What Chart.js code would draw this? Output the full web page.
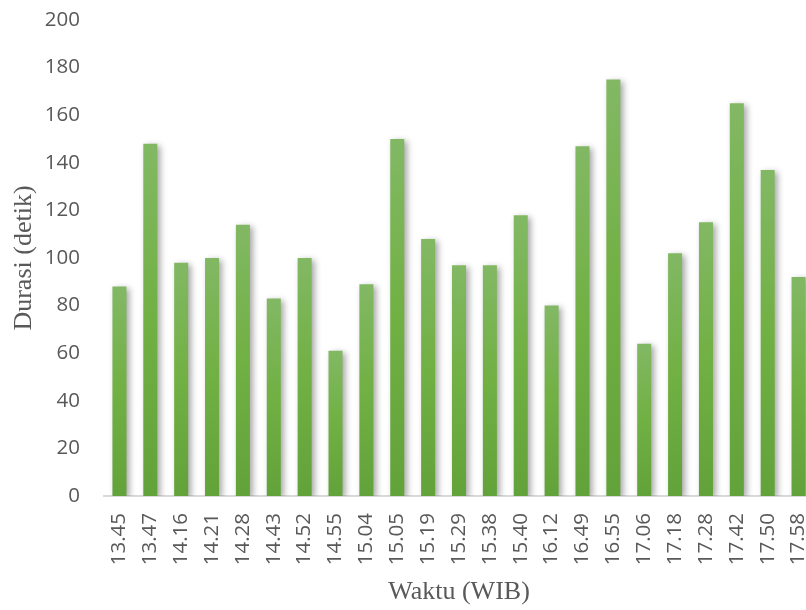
<!DOCTYPE html>
<html>
<head>
  <title>Durasi per Waktu</title>
  <script src="https://cdn.jsdelivr.net/npm/chart.js"></script>
  <style>
    body {
      margin: 0;
      background-color: #fff;
      overflow: hidden;
    }
    #chart {
      display: block;
    }
  </style>
</head>
<body>
  <!-- kanvas sedikit lebih lebar dari jendela: batang terakhir terpotong seperti di gambar asli -->
  <canvas id="chart" width="814" height="610"></canvas>

  <script>
    const waktu = ['13.45', '13.47', '14.16', '14.21', '14.28', '14.43', '14.52', '14.55', '15.04', '15.05',
      '15.19', '15.29', '15.38', '15.40', '16.12', '16.49', '16.55', '17.06', '17.18', '17.28',
      '17.42', '17.50', '17.58'];
    const durasi = [88, 148, 98, 100, 114, 83, 100, 61, 89, 150,
      108, 97, 97, 118, 80, 147, 175, 64, 102, 115,
      165, 137, 92];
    const yTicks = [0, 20, 40, 60, 80, 100, 120, 140, 160, 180, 200];

    const grey = '#595959';

    // gradien per batang: terang di atas, lebih gelap di bawah
    function barGradient(context) {
      const chart = context.chart;
      const y = chart.scales.y;
      if (context.type !== 'data' || !chart.chartArea || !y) return '#70ad47';
      const top = y.getPixelForValue(context.raw);
      const base = y.getPixelForValue(0);
      if (!isFinite(top) || !isFinite(base) || top === base) return '#70ad47';
      const g = chart.ctx.createLinearGradient(0, top, 0, base);
      g.addColorStop(0, '#82b864');
      g.addColorStop(0.5, '#71b043');
      g.addColorStop(1, '#62a23a');
      return g;
    }

    const shadowPlugin = {
      id: 'barShadow',
      beforeDatasetsDraw(chart) {
        const ctx = chart.ctx;
        ctx.save();
        ctx.shadowColor = 'rgba(0, 0, 0, 0.35)';
        ctx.shadowBlur = 6;
        ctx.shadowOffsetX = 3;
        ctx.shadowOffsetY = 2;
      },
      afterDatasetsDraw(chart) {
        chart.ctx.restore();
      }
    };

    new Chart(document.getElementById('chart'), {
      type: 'bar',
      data: {
        labels: waktu,
        datasets: [{
          label: 'Durasi',
          data: durasi,
          backgroundColor: barGradient,
          borderWidth: 0,
          barPercentage: 0.454,
          categoryPercentage: 1
        }]
      },
      options: {
        responsive: false,
        animation: false,
        layout: {
          padding: { top: 20, left: 0, right: 0, bottom: 0 }
        },
        plugins: {
          legend: { display: false },
          tooltip: { enabled: false }
        },
        scales: {
          x: {
            grid: { display: false, drawTicks: false },
            border: { display: true, color: '#d9d9d9', width: 2 },
            ticks: {
              color: grey,
              font: { family: 'Open Sans', size: 20.5 },
              minRotation: 90,
              maxRotation: 90,
              padding: 17,
              autoSkip: false
            },
            title: {
              display: true,
              text: 'Waktu (WIB)',
              color: grey,
              font: { family: 'Liberation Serif', size: 26 },
              padding: { top: 0, bottom: 2 }
            },
            afterFit(scale) {
              scale.height = 114;
              scale.paddingLeft = 0;
              scale.paddingRight = 0;
            }
          },
          y: {
            min: 0,
            max: 200,
            grid: { display: false, drawTicks: false },
            border: { display: false },
            afterBuildTicks(scale) {
              scale.ticks = yTicks.map(v => ({ value: v }));
            },
            ticks: {
              color: grey,
              font: { family: 'Open Sans', size: 20.5 },
              padding: 24
            },
            title: {
              display: true,
              text: 'Durasi (detik)',
              color: grey,
              font: { family: 'Liberation Serif', size: 26 },
              padding: { top: 9, bottom: 0 }
            },
            afterFit(scale) {
              scale.width = 104;
              scale.paddingTop = 0;
              scale.paddingBottom = 0;
            }
          }
        }
      },
      plugins: [shadowPlugin]
    });
  </script>
</body>
</html>
